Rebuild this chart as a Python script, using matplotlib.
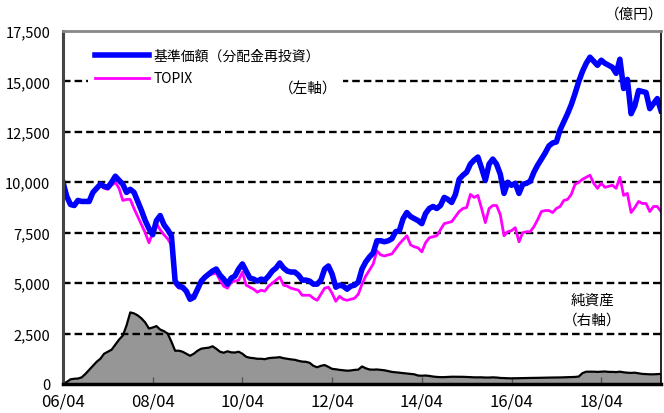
import matplotlib
matplotlib.use("Agg")
import matplotlib.pyplot as plt
import numpy as np

plt.rcParams['font.family'] = ['Noto Sans CJK JP', 'DejaVu Sans']

# Monthly data, 2006/04 .. 2019/08
nav = [10000, 9300, 8900, 8850, 9100, 9050, 9050, 9050, 9500, 9700,
       9900, 9800, 9750, 10000, 10300, 10100, 9900, 9500, 9650, 9500,
       9050, 8600, 8100, 7700, 7400, 8100, 8350, 7900, 7650, 7350,
       5100, 4850, 4800, 4600, 4200, 4300, 4700, 5100, 5300, 5450,
       5600, 5700, 5400, 5200, 4950, 5250, 5350, 5700, 5950, 5600,
       5250, 5200, 5100, 5200, 5150, 5350, 5600, 5750, 6000, 5750,
       5600, 5550, 5550, 5400, 5150, 5150, 5100, 4950, 4950, 5150,
       5700, 5850, 5450, 4800, 4900, 4850, 4700, 4850, 4900, 5050,
       5700, 6050, 6300, 6500, 7100, 7100, 7050, 7100, 7200, 7550,
       7600, 8200, 8500, 8300, 8200, 8100, 7950, 8450, 8700, 8800,
       8700, 8850, 9250, 9150, 9000, 9400, 10150, 10350, 10500, 10900,
       11100, 11250, 10700, 10100, 10900, 11150, 10900, 10400, 9450, 10000,
       9850, 9950, 9450, 9900, 9950, 10050, 10500, 10850, 11150, 11450,
       11800, 11950, 12000, 12600, 13000, 13400, 13850, 14400, 15000, 15500,
       15900, 16200, 16000, 15800, 16050, 15900, 15800, 15700, 15400, 16100,
       14650, 15100, 13400, 13800, 14550, 14500, 14450, 13650, 13900, 14150,
       13550]

topix = [10000, 9300, 8850, 8800, 9050, 9000, 9000, 9000, 9400, 9650,
         9850, 9700, 9650, 9850, 10000, 9700, 9100, 9150, 9150, 8700,
         8300, 7900, 7500, 7000, 7500, 7950, 7650, 7400, 7200, 6900,
         4950, 4750, 4750, 4500, 4350, 4450, 4800, 5100, 5300, 5400,
         5450, 5500, 5150, 4850, 4750, 5050, 5100, 5150, 5550, 4900,
         4800, 4700, 4550, 4650, 4600, 4850, 5000, 5150, 5300, 4900,
         4850, 4750, 4700, 4650, 4400, 4400, 4400, 4250, 4150, 4450,
         4750, 4800, 4500, 4100, 4350, 4200, 4150, 4200, 4250, 4450,
         4950, 5350, 5650, 5950, 6600, 6400, 6350, 6400, 6450, 6700,
         6950, 7150, 7350, 6900, 6800, 6750, 6550, 7000, 7250, 7300,
         7350, 7650, 7950, 8000, 8050, 8300, 8550, 8700, 8750, 9400,
         9250, 9350, 8700, 8000, 8700, 8850, 8850, 8400, 7350, 7550,
         7600, 7750, 7050, 7500, 7550, 7550, 7800, 8150, 8550, 8600,
         8600, 8500, 8700, 8800, 9100, 9150, 9400, 9900, 10000, 10150,
         10250, 10350, 9950, 9700, 9950, 9750, 9800, 9850, 9700, 10250,
         9350, 9450, 8500, 8750, 9050, 8950, 8950, 8550, 8800, 8800,
         8550]

net_assets = [0, 100, 230, 260, 270, 330, 500, 700, 900, 1100,
              1250, 1500, 1600, 1700, 1950, 2200, 2400, 2900, 3550, 3500,
              3400, 3250, 3050, 2750, 2800, 2870, 2700, 2620, 2500, 2100,
              1650, 1650, 1600, 1500, 1400, 1500, 1650, 1750, 1780, 1800,
              1870, 1750, 1600, 1550, 1620, 1570, 1560, 1600, 1500, 1350,
              1300, 1280, 1250, 1250, 1230, 1280, 1300, 1310, 1330, 1280,
              1250, 1220, 1200, 1150, 1110, 1100, 1050, 900, 830, 900,
              940, 850, 750, 730, 700, 680, 660, 670, 700, 710,
              870, 780, 720, 710, 720, 700, 680, 640, 600, 580,
              560, 540, 520, 500, 480, 420, 410, 420, 400, 370,
              350, 340, 340, 350, 360, 360, 360, 355, 350, 340,
              330, 330, 330, 320, 320, 330, 320, 300, 290, 285,
              280, 285, 290, 295, 295, 300, 300, 305, 310, 310,
              315, 320, 320, 325, 330, 335, 340, 350, 370, 540,
              610, 610, 610, 600, 610, 620, 600, 600, 590, 610,
              580, 560, 550, 560, 530, 500, 490, 480, 480, 490,
              500]

xtick_labels = ['06/04', '08/04', '10/04', '12/04', '14/04', '16/04', '18/04']
ytick_values = [0, 2500, 5000, 7500, 10000, 12500, 15000, 17500]
ytick_labels = ['0', '2,500', '5,000', '7,500', '10,000', '12,500', '15,000', '17,500']

months = np.arange(len(nav))

fig = plt.figure(figsize=(6.64, 4.14), dpi=100)
ax = fig.add_axes([63/664, 29/414, 598/664, 353/414])

# net assets area
ax.fill_between(months, net_assets, 0, color='#969696', zorder=1, linewidth=0)
ax.plot(months, net_assets, color='black', lw=1.6, zorder=2)

# grid lines
for v in ytick_values[1:-1]:
    ax.axhline(v, color='black', lw=1.7, dashes=(3.2, 1.7), zorder=3)

ax.plot(months, topix, color='#FF00FF', lw=2.0, zorder=4, label='TOPIX')
ax.plot(months, nav, color='#0000FF', lw=4.0, zorder=5, label='基準価額（分配金再投資）')

ax.set_xlim(0, len(nav) - 1)
ax.set_ylim(0, 17500)
ax.set_yticks(ytick_values)
ax.set_yticklabels(ytick_labels, fontsize=10.5)
ax.set_xticks(np.arange(0, len(nav), 24))
ax.set_xticklabels(xtick_labels, fontsize=12)
ax.tick_params(axis='y', length=0, pad=9)
ax.tick_params(axis='x', direction='in', length=5, width=1, color='#555555', pad=6)

ax.spines['left'].set_linewidth(2.2)
ax.spines['left'].set_color('#444444')
ax.spines['bottom'].set_linewidth(2.5)
ax.spines['bottom'].set_color('black')
ax.spines['right'].set_linewidth(1.2)
ax.spines['right'].set_color('black')
ax.spines['top'].set_linewidth(2.0)
ax.spines['top'].set_color('#888888')
for s in ax.spines.values():
    s.set_zorder(6)

h, l = ax.get_legend_handles_labels()
leg = ax.legend(h[::-1], l[::-1], loc='upper left', bbox_to_anchor=(0.03, 0.99),
                frameon=True, fontsize=10, handlelength=3.9, handletextpad=0.35,
                labelspacing=0.65, borderpad=0.5)
leg.get_frame().set_facecolor('white')
leg.get_frame().set_edgecolor('none')
leg.get_frame().set_alpha(1)
leg.set_zorder(7)

ax.text(0.41, 0.838, '（左軸）', transform=ax.transAxes, fontsize=10.5,
        ha='center', va='center', zorder=8,
        bbox=dict(facecolor='white', edgecolor='none', pad=4))

ax.text(0.885, 0.21, '純資産\n（右軸）', transform=ax.transAxes, fontsize=10.5,
        ha='center', va='center', zorder=8, linespacing=1.55)

fig.text(663/664, 1 - 15/414, '（億円）', fontsize=10.5, ha='right', va='center')

fig.savefig('out.png', dpi=100)
